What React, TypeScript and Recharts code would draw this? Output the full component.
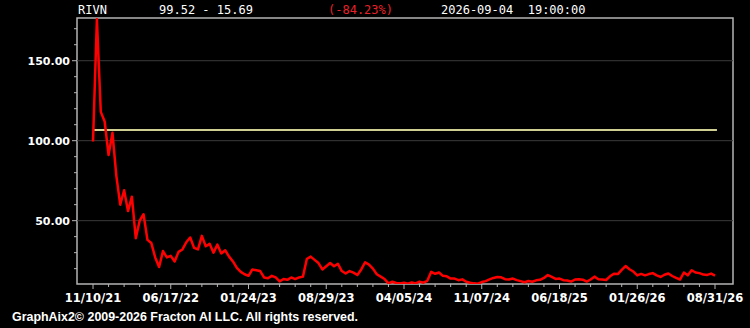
import React from "react";
import { LineChart, Line, XAxis, YAxis, ReferenceLine, ReferenceArea } from "recharts";

// header / footer text
const symbol = "RIVN";
const priceRange = "99.52 - 15.69";
const changePct = "(-84.23%)";
const stamp = "2026-09-04  19:00:00";
const footer = "GraphAix2\u00a9 2009-2026 Fracton AI LLC. All rights reserved.";

// closing prices, one per bar
const prices = [
  99.5, 176, 118, 112, 91, 105, 78, 60, 69, 56, 65, 39, 50, 54, 38, 36, 27, 21, 31, 27,
  28, 24.5, 30.5, 32, 36.5, 39.5, 33, 32, 40.5, 34, 35.5, 30, 35, 29.5, 31.5, 27.5, 24.5, 20.5, 18, 16.5,
  15.5, 19.5, 19, 18.5, 14.5, 14, 15.5, 14.5, 12, 13.5, 13, 14.5, 13.5, 14.5, 15, 26, 27.5, 25.5, 23.5, 19.5,
  21.5, 23.5, 21.5, 23, 18.5, 17, 18.5, 17.5, 16, 19.5, 24, 22.5, 20, 16.5, 15, 13.5, 10.8, 11.8, 11, 10.8,
  11.2, 10.6, 11.4, 10.8, 11.9, 11.2, 12.4, 18, 16.8, 17.6, 15.5, 15.2, 13.8, 13.8, 12.8, 13.3, 11.8, 11.2, 10.8, 10.6,
  11.6, 12.2, 13.3, 14.2, 14.8, 14.6, 13.4, 13.2, 13.8, 12.8, 12.2, 11.5, 12.3, 11.8, 12.7, 13, 14.2, 16, 14.8, 13.6,
  13.8, 12.8, 12.6, 11.9, 13.2, 13.4, 13.1, 11.9, 13.2, 15, 13.4, 13.2, 12.9, 15.2, 16.8, 16.6, 19.2, 21.6, 19.6, 18.2,
  15.8, 16.7, 15.8, 16.6, 17.2, 15.8, 14.8, 16.2, 17, 15.4, 14.2, 13.2, 17.6, 15.8, 19, 17.6, 17.2, 16.3, 16.1, 16.9,
  15.69,
];

const xTickLabels = [
  "11/10/21", "06/17/22", "01/24/23", "08/29/23", "04/05/24",
  "11/07/24", "06/18/25", "01/26/26", "08/31/26",
];
const xLabelStep = 20;
const xMinorStep = 4;
const xDomain = [-4.12, 164.63];

const yDomain = [10.4, 176.7];
const yTicks = [20, 30, 40, 50, 60, 70, 80, 90, 100, 110, 120, 130, 140, 150, 160, 170];
const yLabelTicks = [50, 100, 150];

const refLevel = 106.7;
const refEnd = 160.5;

const chartData = prices.map((p, i) => ({ i, price: p }));
const xTicks = Array.from({ length: (xLabelStep * (xTickLabels.length - 1)) / xMinorStep + 1 }, (_, k) => k * xMinorStep);

const axisColor = "#b4b4b4";
const labelFont = "DejaVu Sans";

function XTick({ x, y, payload }: any) {
  const v = payload.value;
  const major = v % xLabelStep === 0;
  return (
    <g>
      <line x1={x} x2={x} y1={y} y2={y + (major ? 5 : 3)} stroke={axisColor} />
      {major && (
        <text x={x} y={y + 18} textAnchor="middle" fill="#fff" fontSize={11.5} fontWeight="bold" fontFamily={labelFont}>
          {xTickLabels[v / xLabelStep]}
        </text>
      )}
    </g>
  );
}

function YTick({ x, y, payload }: any) {
  const v = payload.value;
  const major = yLabelTicks.includes(v);
  return (
    <g>
      <line x1={x - (major ? 5 : 3)} x2={x} y1={y} y2={y} stroke={axisColor} />
      {major && (
        <text x={x - 7} y={y + 4} textAnchor="end" fill="#fff" fontSize={11} fontWeight="bold" fontFamily={labelFont}>
          {v.toFixed(2)}
        </text>
      )}
    </g>
  );
}

export default function App() {
  return (
    <div style={{ position: "fixed", left: 0, top: 0, width: 750, height: 328, background: "#000" }}>
      <LineChart width={750} height={328} data={chartData} margin={{ top: 18, right: 17, bottom: 14, left: 0 }}>
        <XAxis
          dataKey="i"
          type="number"
          domain={xDomain}
          ticks={xTicks}
          interval={0}
          tick={<XTick />}
          tickSize={0}
          tickMargin={0}
          tickLine={false}
          axisLine={false}
          height={30}
          allowDataOverflow
        />
        <YAxis
          type="number"
          domain={yDomain}
          ticks={yTicks}
          interval={0}
          tick={<YTick />}
          tickSize={0}
          tickMargin={0}
          tickLine={false}
          axisLine={false}
          width={77}
          allowDataOverflow
        />
        {yLabelTicks.map((v) => (
          <ReferenceLine key={v} y={v} stroke="#3a3a3a" strokeWidth={1} />
        ))}
        <ReferenceLine
          segment={[{ x: 0, y: refLevel }, { x: refEnd, y: refLevel }]}
          stroke="#cfcf92"
          strokeWidth={2}
        />
        <Line
          type="linear"
          dataKey="price"
          stroke="#ff0000"
          strokeWidth={2.5}
          strokeLinejoin="round"
          dot={false}
          isAnimationActive={false}
        />
        <ReferenceArea x1={xDomain[0]} x2={xDomain[1]} y1={yDomain[0]} y2={yDomain[1]} fill="none" stroke={axisColor} strokeWidth={1.5} />
      </LineChart>
      <svg width={750} height={328} style={{ position: "absolute", left: 0, top: 0, pointerEvents: "none" }}>
        <g fontFamily="DejaVu Sans Mono" fontSize={12} fill="#fff">
          <text x={78} y={14}>{symbol}</text>
          <text x={159} y={14}>{priceRange}</text>
          <text x={328} y={14} fill="#e8202a">{changePct}</text>
          <text x={441} y={14} xmlSpace="preserve">{stamp}</text>
        </g>
        <text x={12} y={321} fill="#fff" fontSize={13} fontWeight="bold" fontFamily="Liberation Sans, Arial, sans-serif" textLength={346} lengthAdjust="spacingAndGlyphs">
          {footer}
        </text>
      </svg>
    </div>
  );
}
